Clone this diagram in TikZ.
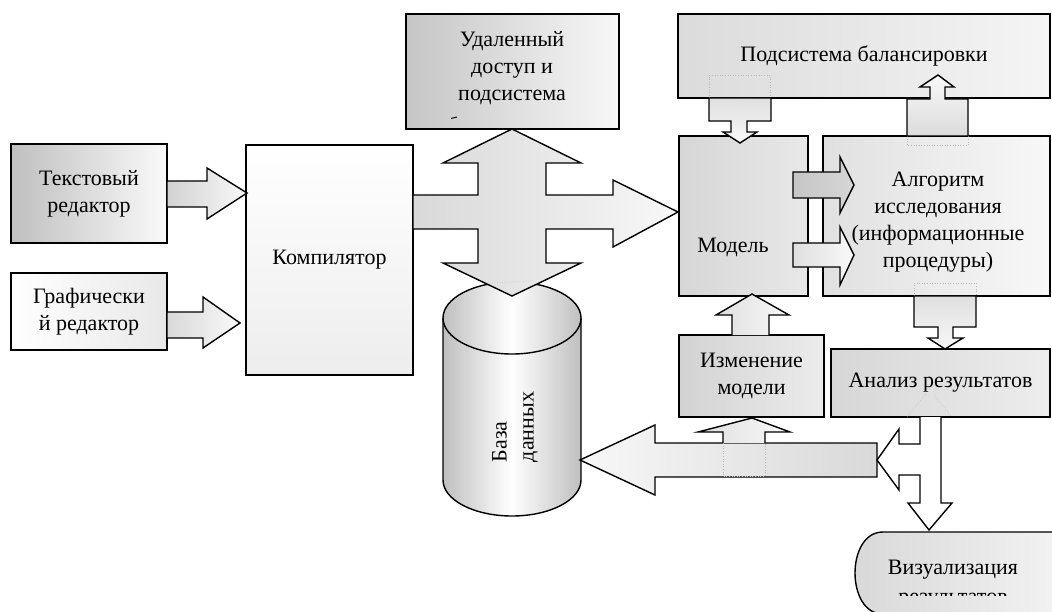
\documentclass[tikz,border=0pt]{standalone}
\usepackage{fontspec}
\setmainfont{Liberation Serif}
\begin{document}
\begin{tikzpicture}[x=1pt,y=-1pt, line width=1.4pt, line join=miter,
  box/.style={draw=black, rectangle, inner sep=0pt, align=center, font=\fontsize{22}{27}\selectfont},
  txt/.style={align=center, font=\fontsize{22}{27}\selectfont, inner sep=0pt},
  barrow/.style={draw=black, line width=1.4pt},
  ghost/.style={draw=gray!55, line width=0.6pt, dotted},
]
\useasboundingbox (0,0) rectangle (1052,612);
\clip (0,0) rectangle (1052,612);
\fill[white] (0,0) rectangle (1052,612);

% left boxes
\node[box, minimum width=156, minimum height=99, left color=gray!50, right color=gray!4] (ted) at (89,193.5) {Текстовый\\редактор};
\node[box, minimum width=156, minimum height=77, left color=white, right color=gray!18] (ged) at (89,311.5) {Графически\\й редактор};
\node[box, minimum width=167, minimum height=230, top color=white, bottom color=gray!14] (comp) at (329.5,260) {Компилятор};

\draw[barrow, left color=gray!35, right color=gray!5] (167,181) -- (207,181) -- (207,168) -- (247,193) -- (207,219) -- (207,207) -- (167,207) -- cycle;
\draw[barrow, left color=gray!30, right color=gray!5] (167,312) -- (203,312) -- (203,297) -- (240,323) -- (203,348) -- (203,338) -- (167,338) -- cycle;

% remote access box
\node[box, minimum width=213, minimum height=115, left color=gray!45, right color=gray!6] (rem) at (512.5,71.5) {};
\node[txt] (remt) at (512,68) {Удаленный\\доступ и\\подсистема};
\draw[line width=1pt] (451,118.5) -- (457,117);

% database cylinder
\shade[left color=gray!50, right color=gray!50, middle color=white] (443,318) -- (443,480) .. controls (443,500) and (474,516) .. (512,516) .. controls (550,516) and (581,500) .. (581,480) -- (581,318) -- cycle;
\draw (443,318) -- (443,480) .. controls (443,500) and (474,516) .. (512,516) .. controls (550,516) and (581,500) .. (581,480) -- (581,318);
\shade[draw=black, left color=gray!50, right color=gray!50, middle color=white] (512,318) ellipse [x radius=69, y radius=36];
\node[txt, rotate=90, align=left] (db) at (515,427) {База\\данных};

% cross arrow
\draw[barrow, left color=gray!30, right color=gray!6] (413,195) -- (478,195) -- (478,163) -- (443,163) -- (512,129) -- (581,163) -- (546,163) -- (546,195) -- (613,195) -- (613,180) -- (678,212) -- (613,247) -- (613,229) -- (546,229) -- (546,263) -- (581,263) -- (512,296) -- (443,263) -- (478,263) -- (478,229) -- (413,229) -- cycle;
\draw[ghost] (492,283) -- (532,281);

% right part
\node[box, minimum width=372, minimum height=84, left color=gray!28, right color=gray!8] (bal) at (864,56) {Подсистема балансировки};
\node[box, minimum width=129, minimum height=160, left color=gray!32, right color=gray!18] (model) at (743.5,216) {};
\node[txt] (modelt) at (733,247) {Модель};
\node[box, minimum width=227, minimum height=160, left color=gray!24, right color=gray!6] (alg) at (936.5,216) {};
\node[txt] (algt) at (938,222) {Алгоритм\\исследования\\(информационные\\процедуры)};
\node[box, minimum width=145, minimum height=82, left color=gray!35, right color=gray!15] (izm) at (751.5,376) {Изменение\\модели};
\node[box, minimum width=219, minimum height=68, left color=gray!32, right color=gray!14] (an) at (940.5,383) {Анализ результатов};

% faint traces
\draw[ghost] (709,98) -- (709,75) -- (770,75) -- (770,98);
\draw[ghost] (907,136) -- (907,145) -- (968,145) -- (968,136);
\draw[ghost] (914,296) -- (914,283) -- (976,283) -- (976,296);
\draw[ghost] (907,417) -- (926,394);
\draw[ghost] (934,395) -- (952,417);

% balance -> model
\draw[barrow, top color=gray!25, bottom color=gray!5] (709,98) -- (771,98) -- (771,121) -- (747,121) -- (747,132) -- (757,132) -- (740,143) -- (723,132) -- (731,132) -- (731,121) -- (709,121) -- cycle;
% alg -> balance
\draw[barrow, top color=gray!5, bottom color=gray!28] (907,136) -- (907,99) -- (930,99) -- (930,87) -- (920,87) -- (938,75) -- (954,87) -- (945,87) -- (945,99) -- (968,99) -- (968,136) -- cycle;
% model -> alg
\draw[barrow, left color=gray!45, right color=gray!32] (793,172) -- (840,172) -- (840,157) -- (854,185) -- (840,213) -- (840,198) -- (793,198) -- cycle;
\draw[barrow, left color=gray!25, right color=gray!5] (793,243) -- (840,243) -- (840,227) -- (854,255) -- (840,285) -- (840,267) -- (793,267) -- cycle;
% alg -> analysis
\draw[barrow, top color=gray!25, bottom color=gray!5] (914,296) -- (976,296) -- (976,327) -- (953,327) -- (953,338) -- (963,338) -- (945,349) -- (928,338) -- (938,338) -- (938,327) -- (914,327) -- cycle;
% izm -> model
\draw[barrow, left color=gray!25, right color=gray!5] (732,335) -- (732,315) -- (716,315) -- (752,294) -- (789,315) -- (769,315) -- (769,335);

% big arrow to database
\draw[barrow, left color=gray!6, right color=gray!30] (877,443) -- (655,443) -- (655,425) -- (580,460) -- (655,495) -- (655,477) -- (877,477) -- cycle;
\draw[ghost] (723,443) -- (723,476) -- (765,476) -- (765,443);
% up into izm
\draw[barrow, left color=gray!25, right color=gray!5] (723,443) -- (723,432) -- (698,432) -- (752,418) -- (790,432) -- (765,432) -- (765,443);

% fork arrow from analysis
\draw[barrow, fill=white] (920,417) -- (920,444) -- (899,444) -- (899,429) -- (877,460) -- (899,490) -- (899,475) -- (920,475) -- (920,503) -- (908,503) -- (929,530) -- (952,503) -- (941,503) -- (941,417);

% visualization
\path[left color=gray!30, right color=gray!10] (1060,532) -- (883,532) to[out=180, in=90] (855,573) to[out=270, in=180] (883,614) -- (1060,614) -- cycle;
\draw[barrow] (1060,532) -- (883,532) to[out=180, in=90] (855,573) to[out=270, in=180] (883,614);
\node[txt] (vist) at (953,570) {Визуализация};
\begin{scope}
\clip (860,592) rectangle (1050,595);
\node[txt, anchor=base] (vist2) at (953,603) {результатов};
\end{scope}
\end{tikzpicture}
\end{document}
